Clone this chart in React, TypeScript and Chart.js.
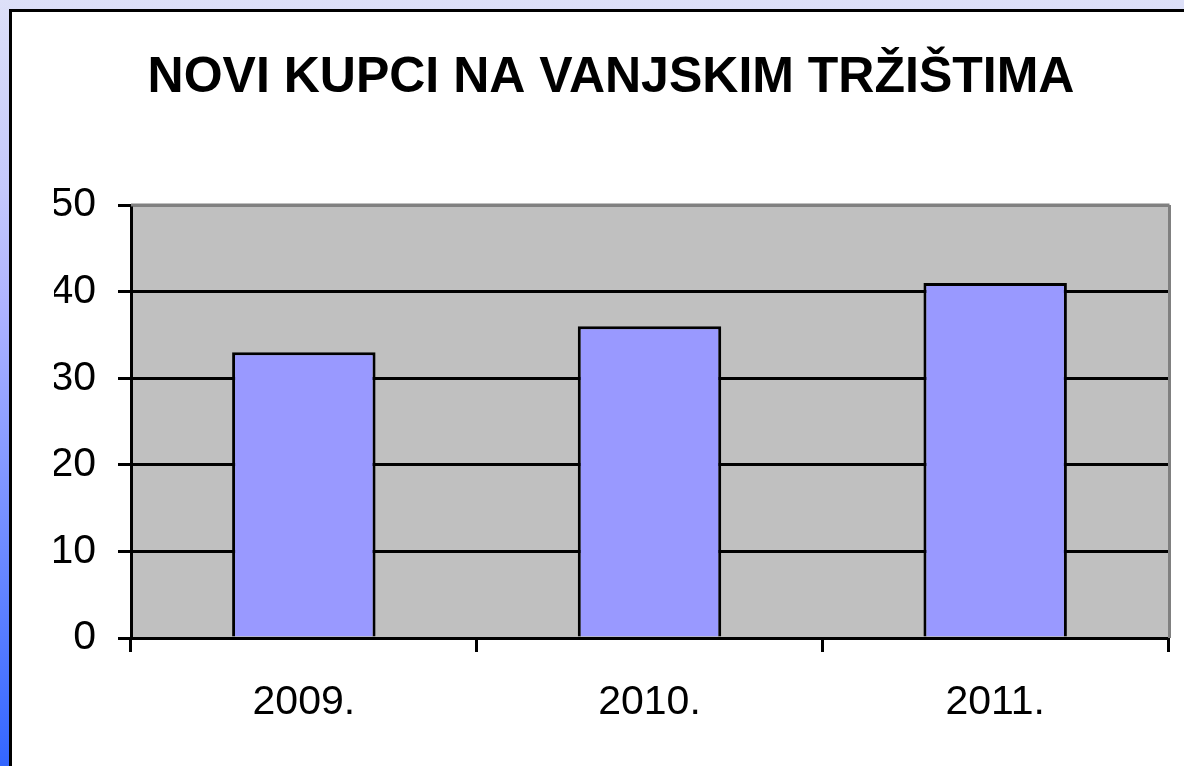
import React, { useEffect, useRef } from "react";
import { Chart, registerables } from "chart.js";

Chart.register(...registerables);

const TITLE = "NOVI KUPCI NA VANJSKIM TRŽIŠTIMA";
const categories = ["2009.", "2010.", "2011."];
const values = [33, 36, 41];
const yMin = 0;
const yMax = 50;
const yStep = 10;

const FONT = "'Liberation Sans', Arial, Helvetica, sans-serif";

const plotBg = {
  id: "plotBg",
  beforeDraw(chart: any) {
    const { ctx, chartArea } = chart;
    if (!chartArea) return;
    ctx.save();
    ctx.fillStyle = "#c0c0c0";
    ctx.fillRect(chartArea.left, chartArea.top, chartArea.right - chartArea.left, chartArea.bottom - chartArea.top);
    ctx.restore();
  },
  beforeDatasetsDraw(chart: any) {
    const { ctx, chartArea } = chart;
    ctx.save();
    ctx.strokeStyle = "#808080";
    ctx.lineWidth = 3;
    ctx.beginPath();
    ctx.moveTo(chartArea.left, chartArea.top);
    ctx.lineTo(chartArea.right + 1.5, chartArea.top);
    ctx.moveTo(chartArea.right + 1.5, chartArea.top);
    ctx.lineTo(chartArea.right + 1.5, chartArea.bottom);
    ctx.stroke();
    ctx.restore();
  },
};

export default function App() {
  const ref = useRef<HTMLCanvasElement | null>(null);
  useEffect(() => {
    if (!ref.current) return;
    const chart = new Chart(ref.current, {
      type: "bar",
      data: {
        labels: categories,
        datasets: [
          {
            data: values,
            backgroundColor: "#9999ff",
            borderColor: "#000000",
            borderWidth: 3,
            barPercentage: 0.415,
            categoryPercentage: 1,
          },
        ],
      },
      options: {
        responsive: false,
        animation: false,
        layout: { padding: { top: 0, left: 54, right: 16, bottom: 0 } },
        plugins: {
          legend: { display: false },
          tooltip: { enabled: false },
          title: {
            display: true,
            text: TITLE,
            color: "#000",
            font: { family: FONT, size: 50, weight: "bold", lineHeight: 1.2 },
            padding: { top: 48, bottom: 97 },
          },
        },
        scales: {
          x: {
            offset: true,
            grid: {
              display: true,
              offset: true,
              drawOnChartArea: false,
              drawTicks: true,
              tickLength: 14,
              tickWidth: 3,
              tickColor: "#000",
              lineWidth: 3,
              color: "#000",
            },
            border: { display: true, color: "#000", width: 3 },
            ticks: {
              color: "#000",
              font: { family: FONT, size: 41, lineHeight: 1.2 },
              padding: 26,
              maxRotation: 0,
            },
            afterFit(scale: any) {
              scale.height = 128;
            },
          },
          y: {
            min: yMin,
            max: yMax,
            grid: {
              color: (ctx: any) => (ctx.tick && ctx.tick.value === yMax ? "#808080" : "#000"),
              lineWidth: 3,
              tickColor: "#000",
              tickLength: 13,
              tickWidth: 3,
            },
            border: { display: true, color: "#000", width: 3 },
            ticks: {
              stepSize: yStep,
              color: "#000",
              font: { family: FONT, size: 41, lineHeight: 1.2 },
              padding: 22,
            },
            afterFit(scale: any) {
              scale.width = 77;
            },
          },
        },
      },
      plugins: [plotBg],
    } as any);
    return () => chart.destroy();
  }, []);

  return (
    <div
      style={{
        position: "fixed",
        left: 0,
        top: 0,
        width: 1184,
        height: 766,
        overflow: "hidden",
        background: "linear-gradient(to bottom, #dde0f8 0%, #c4c8fc 25%, #aeb3ff 40%, #3366ff 100%)",
      }}
    >
      <div
        style={{
          position: "absolute",
          left: 9,
          top: 9,
          width: 1200,
          height: 800,
          background: "#ffffff",
          borderLeft: "3px solid #000",
          borderTop: "3px solid #000",
        }}
      />
      <canvas
        ref={ref}
        width={1184}
        height={766}
        style={{ position: "absolute", left: 0, top: 0, width: 1184, height: 766 }}
      />
    </div>
  );
}
